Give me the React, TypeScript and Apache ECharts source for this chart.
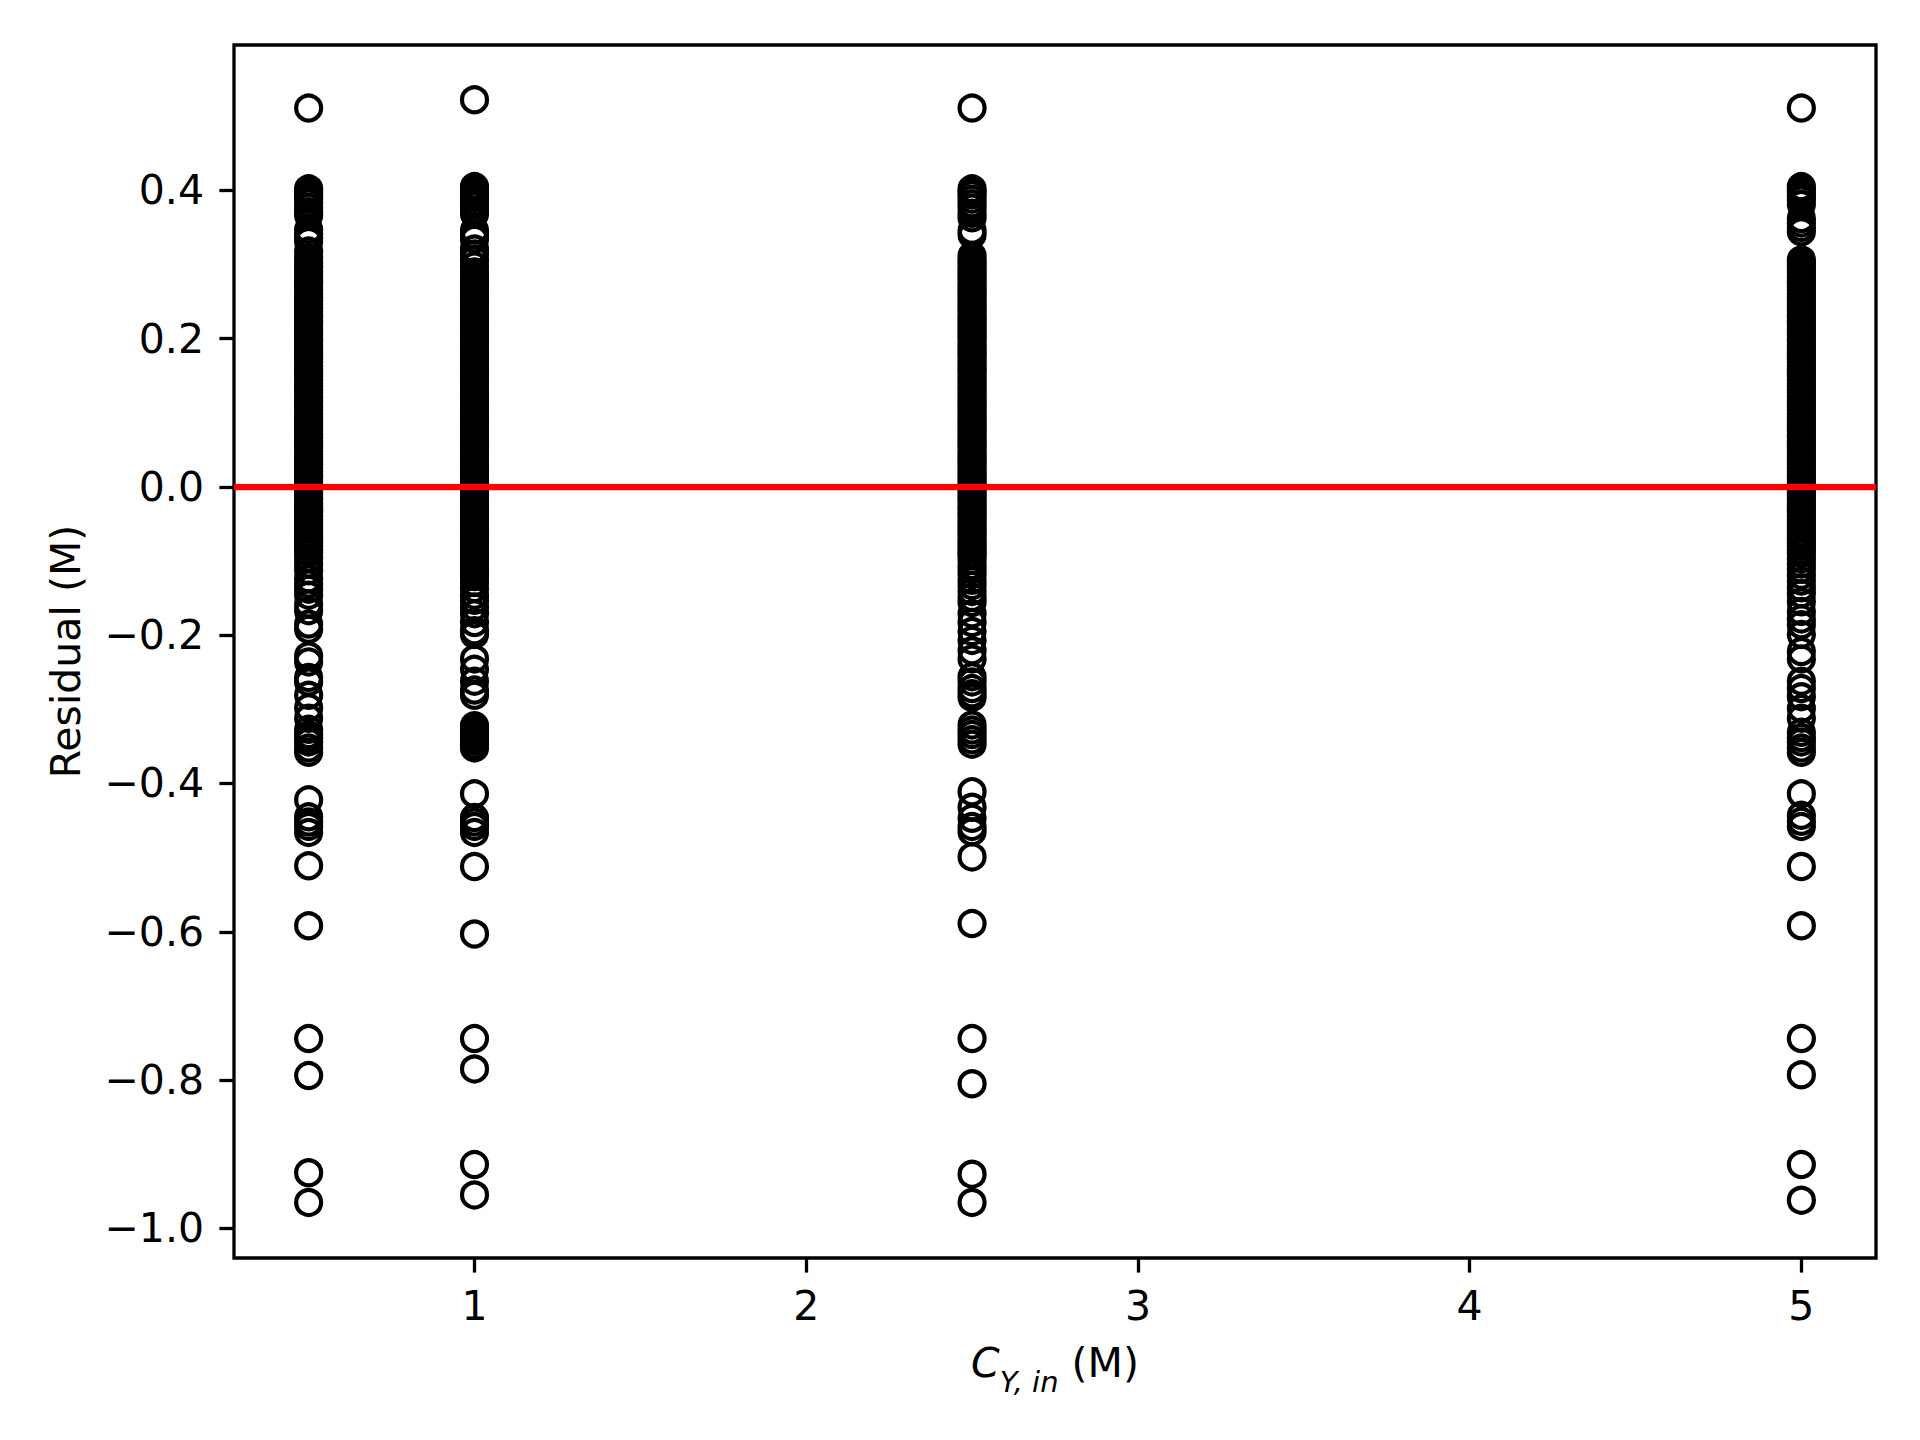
import React, { useEffect, useRef } from "react";
import * as echarts from "echarts";

const xCategories = [0.5, 1, 2.5, 5];

const residAt05 = [
  0.511,
  0.402, 0.399, 0.396, 0.392, 0.388, 0.383, 0.377, 0.371, 0.366, 0.347, 0.341, 0.336, 0.331, 0.318, 0.309, 0.302,
  0.297, 0.292, 0.288, 0.283, 0.278, 0.274, 0.269, 0.265, 0.26, 0.255, 0.251, 0.246, 0.242, 0.237, 0.232, 0.228,
  0.223, 0.219, 0.214, 0.209, 0.205, 0.2, 0.196, 0.191, 0.186, 0.182, 0.177, 0.173, 0.168, 0.163, 0.159, 0.154,
  0.15, 0.145, 0.14, 0.136, 0.131, 0.127, 0.122, 0.117, 0.113, 0.108, 0.104, 0.099, 0.094, 0.09, 0.085, 0.081,
  0.076, 0.071, 0.067, 0.062, 0.058, 0.053, 0.048, 0.044, 0.039, 0.035, 0.03, 0.025, 0.021, 0.016, 0.012, 0.007,
  0.002, -0.002, -0.007, -0.011, -0.016, -0.021, -0.025, -0.03, -0.034, -0.039, -0.044, -0.048, -0.053, -0.057,
  -0.062, -0.067, -0.071, -0.076, -0.08, -0.085, -0.089,
  -0.096, -0.104, -0.113, -0.124, -0.131, -0.138, -0.146, -0.158, -0.167, -0.185, -0.192, -0.228, -0.236,
  -0.257, -0.263, -0.281, -0.298, -0.312, -0.327, -0.334, -0.339, -0.344, -0.352, -0.358,
  -0.422, -0.445, -0.452, -0.458, -0.466, -0.511, -0.592, -0.744, -0.794, -0.925, -0.965,
];

const residAt1 = [
  0.522,
  0.405, 0.402, 0.398, 0.394, 0.389, 0.384, 0.379, 0.373, 0.368, 0.346, 0.34, 0.334, 0.321, 0.314, 0.306, 0.298,
  0.29, 0.284,
  0.279, 0.274, 0.27, 0.265, 0.26, 0.256, 0.251, 0.247, 0.242, 0.237, 0.233, 0.228, 0.224, 0.219, 0.214, 0.21,
  0.205, 0.201, 0.196, 0.191, 0.187, 0.182, 0.178, 0.173, 0.168, 0.164, 0.159, 0.155, 0.15, 0.145, 0.141, 0.136,
  0.132, 0.127, 0.122, 0.118, 0.113, 0.109, 0.104, 0.099, 0.095, 0.09, 0.086, 0.081, 0.076, 0.072, 0.067, 0.063,
  0.058, 0.053, 0.049, 0.044, 0.04, 0.035, 0.03, 0.026, 0.021, 0.017, 0.012, 0.007, 0.003, -0.002, -0.006,
  -0.011, -0.016, -0.02, -0.025, -0.029, -0.034, -0.039, -0.043, -0.048, -0.052, -0.057, -0.062, -0.066, -0.071,
  -0.075, -0.08, -0.085, -0.089, -0.094, -0.098, -0.103, -0.108, -0.112, -0.117, -0.121,
  -0.129, -0.137, -0.146, -0.153, -0.162, -0.171, -0.183, -0.194, -0.199, -0.232, -0.246, -0.262, -0.274,
  -0.281, -0.322, -0.326, -0.331, -0.335, -0.339, -0.343, -0.348, -0.352,
  -0.414, -0.446, -0.452, -0.458, -0.466, -0.512, -0.603, -0.744, -0.785, -0.914, -0.955,
];

const residAt25 = [
  0.511,
  0.402, 0.398, 0.394, 0.388, 0.382, 0.376, 0.369, 0.363, 0.346, 0.34, 0.312, 0.306,
  0.301, 0.296, 0.292, 0.287, 0.283, 0.278, 0.273, 0.269, 0.264, 0.26, 0.255, 0.25, 0.246, 0.241, 0.237, 0.232,
  0.227, 0.223, 0.218, 0.214, 0.209, 0.204, 0.2, 0.195, 0.191, 0.186, 0.181, 0.177, 0.172, 0.168, 0.163, 0.158,
  0.154, 0.149, 0.145, 0.14, 0.135, 0.131, 0.126, 0.122, 0.117, 0.112, 0.108, 0.103, 0.099, 0.094, 0.089, 0.085,
  0.08, 0.076, 0.071, 0.066, 0.062, 0.057, 0.053, 0.048, 0.043, 0.039, 0.034, 0.03, 0.025, 0.02, 0.016, 0.011,
  0.007, 0.002, -0.003, -0.007, -0.012, -0.016, -0.021, -0.026, -0.03, -0.035, -0.039, -0.044, -0.049, -0.053,
  -0.058, -0.062, -0.067, -0.072, -0.076, -0.081, -0.085, -0.09, -0.093,
  -0.099, -0.106, -0.112, -0.118, -0.126, -0.133, -0.141, -0.149, -0.156, -0.171, -0.183, -0.195, -0.207,
  -0.221, -0.232, -0.256, -0.263, -0.272, -0.279, -0.284, -0.321, -0.328, -0.334, -0.341, -0.347,
  -0.411, -0.432, -0.447, -0.458, -0.465, -0.499, -0.589, -0.744, -0.805, -0.927, -0.965,
];

const residAt5 = [
  0.511,
  0.405, 0.401, 0.397, 0.392, 0.387, 0.381, 0.362, 0.356, 0.35, 0.344,
  0.306, 0.301, 0.297, 0.292, 0.288, 0.283, 0.278, 0.274, 0.269, 0.265, 0.26, 0.255, 0.251, 0.246, 0.242, 0.237,
  0.232, 0.228, 0.223, 0.219, 0.214, 0.209, 0.205, 0.2, 0.196, 0.191, 0.186, 0.182, 0.177, 0.173, 0.168, 0.163,
  0.159, 0.154, 0.15, 0.145, 0.14, 0.136, 0.131, 0.127, 0.122, 0.117, 0.113, 0.108, 0.104, 0.099, 0.094, 0.09,
  0.085, 0.081, 0.076, 0.071, 0.067, 0.062, 0.058, 0.053, 0.048, 0.044, 0.039, 0.035, 0.03, 0.025, 0.021, 0.016,
  0.012, 0.007, 0.002, -0.002, -0.007, -0.011, -0.016, -0.021, -0.025, -0.03, -0.034, -0.039, -0.044, -0.048,
  -0.053, -0.057, -0.062, -0.067, -0.071, -0.076, -0.08, -0.085, -0.09,
  -0.097, -0.104, -0.111, -0.119, -0.127, -0.136, -0.144, -0.155, -0.168, -0.178, -0.186, -0.199, -0.222,
  -0.232, -0.262, -0.272, -0.283, -0.299, -0.312, -0.331, -0.338, -0.344, -0.352, -0.358,
  -0.414, -0.443, -0.451, -0.458, -0.512, -0.592, -0.744, -0.793, -0.914, -0.962,
];

const residualColumns = [residAt05, residAt1, residAt25, residAt5];

const xTicks = [1, 2, 3, 4, 5];
const yTicks = [-1.0, -0.8, -0.6, -0.4, -0.2, 0.0, 0.2, 0.4];
const xRange = [0.275, 5.225];
const yRange = [-1.04, 0.596];
const zeroLine = 0;

const FONT = "DejaVu Sans";

export default function App() {
  const ref = useRef<HTMLDivElement>(null);

  useEffect(() => {
    document.body.style.margin = "0";
    if (!ref.current) return;
    const chart = echarts.init(ref.current, undefined, { renderer: "svg" });

    const points: number[][] = [];
    residualColumns.forEach((col, i) => {
      col.forEach((v) => points.push([xCategories[i], v]));
    });

    const fmt = (v: number) => {
      const s = Math.abs(v) < 1e-9 ? "0.0" : v.toFixed(1);
      return s.replace("-", "\u2212");
    };

    chart.setOption({
      animation: false,
      backgroundColor: "#ffffff",
      grid: {
        left: 234,
        right: 44,
        top: 45,
        bottom: 182,
        show: true,
        borderColor: "#000000",
        borderWidth: 3.3,
        backgroundColor: "transparent",
      },
      xAxis: {
        type: "value",
        min: xRange[0],
        max: xRange[1],
        splitLine: { show: false },
        axisLine: { show: false, onZero: false },
        axisTick: {
          show: true,
          customValues: xTicks,
          length: 14.6,
          lineStyle: { color: "#000", width: 3.3 },
        },
        axisLabel: {
          customValues: xTicks,
          formatter: (v: number) => String(v),
          color: "#000",
          fontFamily: FONT,
          fontSize: 41,
          margin: 27,
        },
        name: "{c|C}{s|Y, in}{n| (M)}",
        nameLocation: "middle",
        nameGap: 80,
        nameTextStyle: {
          color: "#000",
          fontFamily: FONT,
          fontSize: 41,
          rich: {
            c: { fontFamily: FONT, fontSize: 41, fontStyle: "italic", color: "#000", lineHeight: 50 },
            s: {
              fontFamily: FONT,
              fontSize: 29,
              fontStyle: "italic",
              color: "#000",
              lineHeight: 50,
              verticalAlign: "bottom",
              padding: [0, 0, -8, 0],
            },
            n: { fontFamily: FONT, fontSize: 41, color: "#000", lineHeight: 50 },
          },
        },
      },
      yAxis: {
        type: "value",
        min: yRange[0],
        max: yRange[1],
        splitLine: { show: false },
        axisLine: { show: false, onZero: false },
        axisTick: {
          show: true,
          customValues: yTicks,
          length: 14.6,
          lineStyle: { color: "#000", width: 3.3 },
        },
        axisLabel: {
          customValues: yTicks,
          formatter: fmt,
          color: "#000",
          fontFamily: FONT,
          fontSize: 41,
          margin: 30,
        },
        name: "Residual (M)",
        nameLocation: "middle",
        nameGap: 148,
        nameTextStyle: { color: "#000", fontFamily: FONT, fontSize: 41 },
      },
      series: [
        {
          type: "scatter",
          data: points,
          symbol: "circle",
          symbolSize: 25,
          large: false,
          progressive: 0,
          itemStyle: {
            color: "rgba(0,0,0,0)",
            borderColor: "#000000",
            borderWidth: 4.2,
            opacity: 1,
          },
          emphasis: { disabled: true },
          markLine: {
            silent: true,
            symbol: ["none", "none"],
            label: { show: false },
            lineStyle: { color: "#ff0000", width: 6.25, type: "solid", opacity: 1 },
            emphasis: { disabled: true },
            data: [{ yAxis: zeroLine }],
          },
        },
      ],
    });

    return () => chart.dispose();
  }, []);

  return <div ref={ref} style={{ width: 1920, height: 1440 }} />;
}
